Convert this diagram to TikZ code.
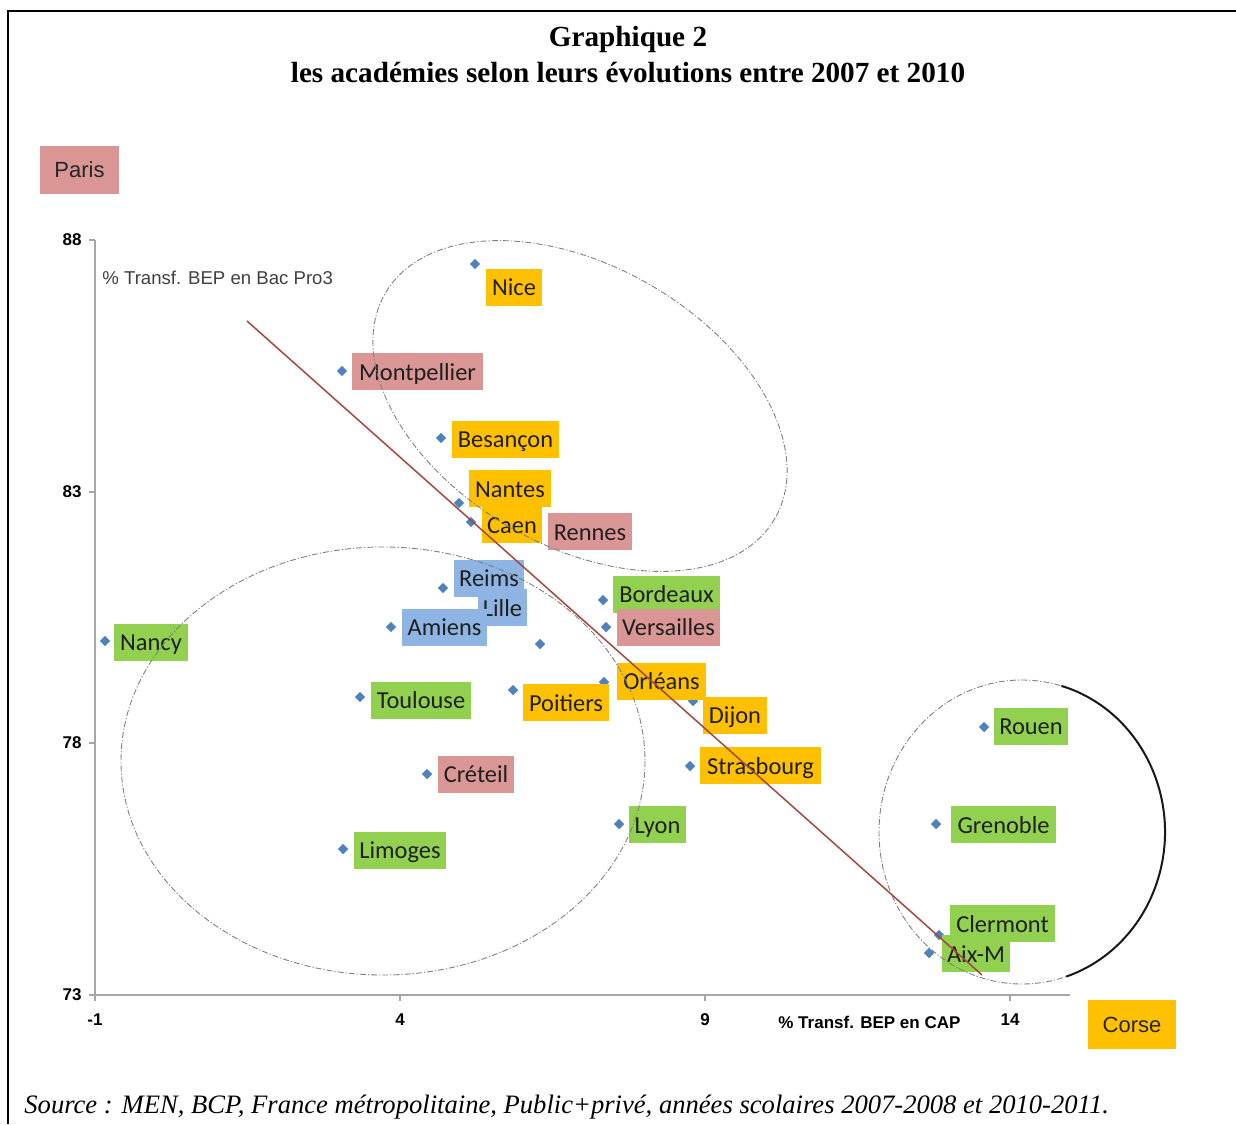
\documentclass[tikz,border=0pt]{standalone}
\usepackage{fontspec}
\usetikzlibrary{shapes.geometric}
\newfontfamily\fserif{Liberation Serif}
\newfontfamily\fcal{Carlito}
\newfontfamily\fsans{Liberation Sans}
\definecolor{cOr}{HTML}{FFC000}
\definecolor{cPk}{HTML}{D99694}
\definecolor{cGr}{HTML}{92D050}
\definecolor{cBl}{HTML}{8DB4E2}
\definecolor{cDot}{HTML}{4F81BD}
\definecolor{cTrend}{HTML}{A5473F}
\definecolor{cAxis}{HTML}{A6A6A6}
\begin{document}
\begin{tikzpicture}[x=0.5pt,y=-0.5pt,
  lab/.style={font=\fcal\fontsize{12.2}{14}\selectfont, text=black!88, inner sep=0pt,
    minimum height=18.5pt, text height=9.6pt, text depth=0.8pt},
  dotpt/.style={diamond, fill=cDot, inner sep=0pt, minimum width=5.4pt, minimum height=5.4pt},
  ell/.style={draw=black!50, line width=0.45pt, dash pattern=on 3pt off 1pt on 0.6pt off 1pt},
  ticklab/.style={font=\fsans\bfseries\fontsize{8.5}{10}\selectfont, inner sep=0pt},
  bigbox/.style={font=\fsans\fontsize{11}{13}\selectfont, text=black!85, inner sep=0pt}]
\useasboundingbox (0,0) rectangle (1236,1124);
% frame
\draw[line width=1pt] (8,1124) -- (8,11) -- (1236,11);
% title
\node[font=\fserif\bfseries\fontsize{14.6}{17}\selectfont] (t1) at (628,39) {Graphique 2};
\node[font=\fserif\bfseries\fontsize{14.6}{17}\selectfont] (t2) at (628,73) {les académies selon leurs évolutions entre 2007 et 2010};
% source
\node[font=\fserif\itshape\fontsize{13.3}{15}\selectfont, anchor=west, inner sep=0pt] (src) at (24,1107) {Source : MEN, BCP, France métropolitaine, Public+privé, années scolaires 2007-2008 et 2010-2011.};
% outside boxes
\node[bigbox, fill=cPk, minimum width=39.5pt, minimum height=24pt] (paris) at (79.5,170) {Paris};
\node[bigbox, fill=cOr, minimum width=44pt, minimum height=24.5pt] (corse) at (1132,1024.5) {Corse};
% axes
\coordinate (o) at (95,995);
\coordinate (ytop) at (95,240);
\coordinate (xend) at (1070,995);
\draw[cAxis, line width=1.1pt] (ytop) -- (o) -- (xend);
\foreach \yy in {240,492,743,995} \draw[cAxis, line width=0.9pt] (89,\yy) -- (95,\yy);
\foreach \xx in {95,400,705,1010} \draw[cAxis, line width=0.9pt] (\xx,995) -- (\xx,1001);
\node[ticklab, anchor=east] (y1) at (82,240) {88};
\node[ticklab, anchor=east] (y2) at (82,492) {83};
\node[ticklab, anchor=east] (y3) at (82,743) {78};
\node[ticklab, anchor=east] (y4) at (82,995) {73};
\node[ticklab] (x1) at (95,1020) {-1};
\node[ticklab] (x2) at (400,1020) {4};
\node[ticklab] (x3) at (705,1020) {9};
\node[ticklab] (x4) at (1010,1020) {14};
\node[ticklab, anchor=west] (xt) at (778,1022) {\% Transf. BEP en CAP};
\node[font=\fsans\fontsize{9.3}{11}\selectfont, text=black!75, anchor=west, inner sep=0pt] (yt) at (102,278) {\% Transf. BEP en Bac Pro3};
% points
\node[dotpt] (p-nice) at (475,264) {};
\node[dotpt] (p-montpellier) at (342,371) {};
\node[dotpt] (p-besancon) at (441,438) {};
\node[dotpt] (p-nantes) at (459,503) {};
\node[dotpt] (p-caen) at (471,522) {};
\node[dotpt] (p-reims) at (443,588) {};
\node[dotpt] (p-lille) at (540,644) {};
\node[dotpt] (p-amiens) at (391,627) {};
\node[dotpt] (p-nancy) at (105,641) {};
\node[dotpt] (p-bordeaux) at (603,600) {};
\node[dotpt] (p-versailles) at (606,627) {};
\node[dotpt] (p-toulouse) at (360,697) {};
\node[dotpt] (p-poitiers) at (513,690) {};
\node[dotpt] (p-orleans) at (604,682) {};
\node[dotpt] (p-dijon) at (693,701) {};
\node[dotpt] (p-strasbourg) at (690,766) {};
\node[dotpt] (p-creteil) at (427,774) {};
\node[dotpt] (p-lyon) at (619,824) {};
\node[dotpt] (p-limoges) at (343,849) {};
\node[dotpt] (p-rouen) at (984,727) {};
\node[dotpt] (p-grenoble) at (936,824) {};
\node[dotpt] (p-clermont) at (939,935) {};
\node[dotpt] (p-aixm) at (929,953) {};
% labels
\node[lab, fill=cOr, minimum width=28pt] (l-nice) at (514,287) {Nice};
\node[lab, fill=cPk, minimum width=65.5pt] (l-montpellier) at (417.5,371.5) {Montpellier};
\node[lab, fill=cOr, minimum width=53.5pt] (l-besancon) at (505.5,439) {Besançon};
\node[lab, fill=cOr, minimum width=41pt] (l-nantes) at (510,488.5) {Nantes};
\node[lab, fill=cOr, minimum width=30pt] (l-caen) at (512,524.5) {Caen};
\node[lab, fill=cPk, minimum width=42pt] (l-rennes) at (590,531.5) {Rennes};
\node[lab, fill=cBl, minimum width=35pt] (l-reims) at (489,578) {Reims};
\node[lab, fill=cBl, minimum width=24.5pt] (l-lille) at (502.5,607.5) {Lille};
\node[lab, fill=cBl, minimum width=42.5pt] (l-amiens) at (444.5,627) {Amiens};
\node[lab, fill=cGr, minimum width=53.5pt] (l-bordeaux) at (666.5,594) {Bordeaux};
\node[lab, fill=cPk, minimum width=51.5pt] (l-versailles) at (668.5,627) {Versailles};
\node[lab, fill=cOr, minimum width=44.5pt] (l-orleans) at (661.5,681) {Orléans};
\node[lab, fill=cOr, minimum width=43pt] (l-poitiers) at (566,702.5) {Poitiers};
\node[lab, fill=cGr, minimum width=50pt] (l-toulouse) at (421,700) {Toulouse};
\node[lab, fill=cGr, minimum width=37pt] (l-nancy) at (151,642) {Nancy};
\node[lab, fill=cPk, minimum width=38pt] (l-creteil) at (476,774) {Créteil};
\node[lab, fill=cGr, minimum width=46pt] (l-limoges) at (400,850) {Limoges};
\node[lab, fill=cGr, minimum width=28.5pt] (l-lyon) at (657.5,824.5) {Lyon};
\node[lab, fill=cOr, minimum width=32pt] (l-dijon) at (735,715) {Dijon};
\node[lab, fill=cOr, minimum width=60.5pt] (l-strasbourg) at (760.5,765.5) {Strasbourg};
\node[lab, fill=cGr, minimum width=37pt] (l-rouen) at (1031,726) {Rouen};
\node[lab, fill=cGr, minimum width=52.5pt] (l-grenoble) at (1003.5,824.5) {Grenoble};
\node[lab, fill=cGr, minimum width=52.5pt] (l-clermont) at (1002.5,923.5) {Clermont};
\node[lab, fill=cGr, minimum width=34pt] (l-aixm) at (976,953.5) {Aix-M};
% trend line
\coordinate (tr1) at (247,321);
\coordinate (tr2) at (982,975);
\draw[cTrend, line width=0.75pt] (tr1) -- (tr2);
% groups
\draw[ell, rotate around={-30:(580,406)}] (580,406) ellipse [x radius=225, y radius=140];
\draw[ell] (383,761) ellipse [x radius=262, y radius=214];
\draw[ell] (1022,832) ellipse [x radius=143, y radius=152];
\draw[black!90, line width=1pt] (1022,832) ++(-74:143 and 152) arc [start angle=-74, end angle=72, x radius=143, y radius=152];
\end{tikzpicture}
\end{document}
